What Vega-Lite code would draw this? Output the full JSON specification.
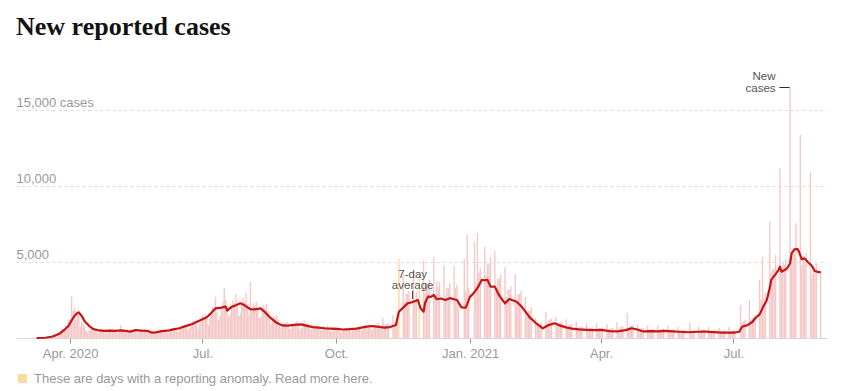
{
"$schema": "https://vega.github.io/schema/vega-lite/v6.json",
"width": 811, "height": 266, "autosize": "none",
"padding": {"left": 16, "top": 72, "right": 23, "bottom": 53},
"background": "white",
"title": {"text": "New reported cases", "anchor": "start", "frame": "group", "font": "Liberation Serif", "fontSize": 26, "fontWeight": "bold", "color": "#121212", "baseline": "alphabetic", "offset": 10},
"config": {"view": {"stroke": null}, "font": "Liberation Sans"},
"datasets": {
"daily": [
{"d":"2020-03-09","n":1},{"d":"2020-03-10","n":5},{"d":"2020-03-11","n":7},{"d":"2020-03-12","n":17},{"d":"2020-03-13","n":13},{"d":"2020-03-14","n":26},{"d":"2020-03-15","n":33},
{"d":"2020-03-16","n":57},{"d":"2020-03-17","n":65},{"d":"2020-03-18","n":62},{"d":"2020-03-19","n":110},{"d":"2020-03-20","n":150},{"d":"2020-03-21","n":170},{"d":"2020-03-22","n":250},
{"d":"2020-03-23","n":225},{"d":"2020-03-24","n":330},{"d":"2020-03-25","n":410},{"d":"2020-03-26","n":510},{"d":"2020-03-27","n":570},{"d":"2020-03-28","n":540},{"d":"2020-03-29","n":840},
{"d":"2020-03-30","n":480},{"d":"2020-03-31","n":1210},{"d":"2020-04-01","n":1190},{"d":"2020-04-02","n":2730},{"d":"2020-04-03","n":1800},{"d":"2020-04-04","n":2000},{"d":"2020-04-05","n":1200},
{"d":"2020-04-06","n":1500},{"d":"2020-04-07","n":1570},{"d":"2020-04-08","n":750},{"d":"2020-04-09","n":1050},{"d":"2020-04-10","n":900},{"d":"2020-04-11","n":750},{"d":"2020-04-12","n":500},
{"d":"2020-04-13","n":400},{"d":"2020-04-14","n":500},{"d":"2020-04-15","n":500},{"d":"2020-04-16","n":700},{"d":"2020-04-17","n":600},{"d":"2020-04-18","n":550},{"d":"2020-04-19","n":400},
{"d":"2020-04-20","n":300},{"d":"2020-04-21","n":450},{"d":"2020-04-22","n":500},{"d":"2020-04-23","n":600},{"d":"2020-04-24","n":500},{"d":"2020-04-25","n":450},{"d":"2020-04-26","n":350},
{"d":"2020-04-27","n":360},{"d":"2020-04-28","n":480},{"d":"2020-04-29","n":580},{"d":"2020-04-30","n":530},{"d":"2020-05-01","n":600},{"d":"2020-05-02","n":480},{"d":"2020-05-03","n":340},
{"d":"2020-05-04","n":360},{"d":"2020-05-05","n":480},{"d":"2020-05-06","n":870},{"d":"2020-05-07","n":530},{"d":"2020-05-08","n":420},{"d":"2020-05-09","n":480},{"d":"2020-05-10","n":340},
{"d":"2020-05-11","n":320},{"d":"2020-05-12","n":430},{"d":"2020-05-13","n":520},{"d":"2020-05-14","n":470},{"d":"2020-05-15","n":540},{"d":"2020-05-16","n":430},{"d":"2020-05-17","n":300},
{"d":"2020-05-18","n":360},{"d":"2020-05-19","n":480},{"d":"2020-05-20","n":580},{"d":"2020-05-21","n":530},{"d":"2020-05-22","n":600},{"d":"2020-05-23","n":480},{"d":"2020-05-24","n":340},
{"d":"2020-05-25","n":280},{"d":"2020-05-26","n":380},{"d":"2020-05-27","n":460},{"d":"2020-05-28","n":420},{"d":"2020-05-29","n":480},{"d":"2020-05-30","n":380},{"d":"2020-05-31","n":270},
{"d":"2020-06-01","n":340},{"d":"2020-06-02","n":450},{"d":"2020-06-03","n":540},{"d":"2020-06-04","n":500},{"d":"2020-06-05","n":560},{"d":"2020-06-06","n":450},{"d":"2020-06-07","n":320},
{"d":"2020-06-08","n":410},{"d":"2020-06-09","n":550},{"d":"2020-06-10","n":660},{"d":"2020-06-11","n":610},{"d":"2020-06-12","n":690},{"d":"2020-06-13","n":550},{"d":"2020-06-14","n":390},
{"d":"2020-06-15","n":530},{"d":"2020-06-16","n":700},{"d":"2020-06-17","n":840},{"d":"2020-06-18","n":770},{"d":"2020-06-19","n":880},{"d":"2020-06-20","n":700},{"d":"2020-06-21","n":490},
{"d":"2020-06-22","n":680},{"d":"2020-06-23","n":900},{"d":"2020-06-24","n":1080},{"d":"2020-06-25","n":990},{"d":"2020-06-26","n":1130},{"d":"2020-06-27","n":900},{"d":"2020-06-28","n":630},
{"d":"2020-06-29","n":940},{"d":"2020-06-30","n":1250},{"d":"2020-07-01","n":1500},{"d":"2020-07-02","n":1380},{"d":"2020-07-03","n":1560},{"d":"2020-07-04","n":1250},{"d":"2020-07-05","n":880},
{"d":"2020-07-06","n":1280},{"d":"2020-07-07","n":1700},{"d":"2020-07-08","n":2040},{"d":"2020-07-09","n":1870},{"d":"2020-07-10","n":2700},{"d":"2020-07-11","n":1700},{"d":"2020-07-12","n":1190},
{"d":"2020-07-13","n":1500},{"d":"2020-07-14","n":2000},{"d":"2020-07-15","n":2400},{"d":"2020-07-16","n":3300},{"d":"2020-07-17","n":2500},{"d":"2020-07-18","n":2000},{"d":"2020-07-19","n":1400},
{"d":"2020-07-20","n":1580},{"d":"2020-07-21","n":2100},{"d":"2020-07-22","n":2520},{"d":"2020-07-23","n":2310},{"d":"2020-07-24","n":2900},{"d":"2020-07-25","n":2100},{"d":"2020-07-26","n":1470},
{"d":"2020-07-27","n":1650},{"d":"2020-07-28","n":2200},{"d":"2020-07-29","n":2640},{"d":"2020-07-30","n":2420},{"d":"2020-07-31","n":3000},{"d":"2020-08-01","n":2200},{"d":"2020-08-02","n":1540},
{"d":"2020-08-03","n":3700},{"d":"2020-08-04","n":1900},{"d":"2020-08-05","n":2280},{"d":"2020-08-06","n":2090},{"d":"2020-08-07","n":2380},{"d":"2020-08-08","n":1900},{"d":"2020-08-09","n":1330},
{"d":"2020-08-10","n":1350},{"d":"2020-08-11","n":1800},{"d":"2020-08-12","n":2160},{"d":"2020-08-13","n":1980},{"d":"2020-08-14","n":2250},{"d":"2020-08-15","n":1800},{"d":"2020-08-16","n":1260},
{"d":"2020-08-17","n":900},{"d":"2020-08-18","n":1200},{"d":"2020-08-19","n":1440},{"d":"2020-08-20","n":1320},{"d":"2020-08-21","n":1500},{"d":"2020-08-22","n":1200},{"d":"2020-08-23","n":840},
{"d":"2020-08-24","n":640},{"d":"2020-08-25","n":850},{"d":"2020-08-26","n":1020},{"d":"2020-08-27","n":940},{"d":"2020-08-28","n":1060},{"d":"2020-08-29","n":850},{"d":"2020-08-30","n":600},
{"d":"2020-08-31","n":600},{"d":"2020-09-01","n":880},{"d":"2020-09-02","n":1000},{"d":"2020-09-03","n":960},{"d":"2020-09-04","n":1100},{"d":"2020-09-05","n":820},{"d":"2020-09-06","n":580},
{"d":"2020-09-07","n":650},{"d":"2020-09-08","n":820},{"d":"2020-09-09","n":1150},{"d":"2020-09-10","n":900},{"d":"2020-09-11","n":1020},{"d":"2020-09-12","n":870},{"d":"2020-09-13","n":610},
{"d":"2020-09-14","n":530},{"d":"2020-09-15","n":700},{"d":"2020-09-16","n":840},{"d":"2020-09-17","n":770},{"d":"2020-09-18","n":880},{"d":"2020-09-19","n":700},{"d":"2020-09-20","n":490},
{"d":"2020-09-21","n":480},{"d":"2020-09-22","n":640},{"d":"2020-09-23","n":770},{"d":"2020-09-24","n":700},{"d":"2020-09-25","n":800},{"d":"2020-09-26","n":640},{"d":"2020-09-27","n":450},
{"d":"2020-09-28","n":450},{"d":"2020-09-29","n":600},{"d":"2020-09-30","n":720},{"d":"2020-10-01","n":660},{"d":"2020-10-02","n":750},{"d":"2020-10-03","n":600},{"d":"2020-10-04","n":420},
{"d":"2020-10-05","n":410},{"d":"2020-10-06","n":550},{"d":"2020-10-07","n":660},{"d":"2020-10-08","n":610},{"d":"2020-10-09","n":690},{"d":"2020-10-10","n":550},{"d":"2020-10-11","n":390},
{"d":"2020-10-12","n":450},{"d":"2020-10-13","n":600},{"d":"2020-10-14","n":720},{"d":"2020-10-15","n":660},{"d":"2020-10-16","n":750},{"d":"2020-10-17","n":600},{"d":"2020-10-18","n":420},
{"d":"2020-10-19","n":560},{"d":"2020-10-20","n":750},{"d":"2020-10-21","n":900},{"d":"2020-10-22","n":830},{"d":"2020-10-23","n":940},{"d":"2020-10-24","n":750},{"d":"2020-10-25","n":530},
{"d":"2020-10-26","n":600},{"d":"2020-10-27","n":720},{"d":"2020-10-28","n":880},{"d":"2020-10-29","n":800},{"d":"2020-10-30","n":980},{"d":"2020-10-31","n":700},{"d":"2020-11-01","n":560},
{"d":"2020-11-02","n":1330},{"d":"2020-11-03","n":770},{"d":"2020-11-04","n":910},{"d":"2020-11-05","n":910},{"d":"2020-11-06","n":980},
{"d":"2020-11-09","n":1500},{"d":"2020-11-10","n":900},{"d":"2020-11-11","n":1000},{"d":"2020-11-12","n":1100},{"d":"2020-11-13","n":5200,"k":"a"},
{"d":"2020-11-16","n":4200},{"d":"2020-11-17","n":2400},{"d":"2020-11-18","n":2900},{"d":"2020-11-19","n":2900},{"d":"2020-11-20","n":3100},
{"d":"2020-11-23","n":4400},{"d":"2020-11-24","n":2500},{"d":"2020-11-25","n":3000},{"d":"2020-11-27","n":4300,"k":"a"},
{"d":"2020-11-30","n":5100},{"d":"2020-12-01","n":3000},{"d":"2020-12-02","n":3500},{"d":"2020-12-03","n":3500},{"d":"2020-12-04","n":3800},
{"d":"2020-12-07","n":5300},{"d":"2020-12-08","n":2800},{"d":"2020-12-09","n":3700},{"d":"2020-12-10","n":3400},{"d":"2020-12-11","n":3700},
{"d":"2020-12-14","n":4800},{"d":"2020-12-15","n":2800},{"d":"2020-12-16","n":3300},{"d":"2020-12-17","n":3300},{"d":"2020-12-18","n":3600},
{"d":"2020-12-21","n":4750},{"d":"2020-12-22","n":3300},{"d":"2020-12-23","n":3500},{"d":"2020-12-24","n":2200},
{"d":"2020-12-28","n":5200},{"d":"2020-12-29","n":3100},{"d":"2020-12-30","n":6800},{"d":"2020-12-31","n":3300},
{"d":"2021-01-04","n":6300},{"d":"2021-01-05","n":3600},{"d":"2021-01-06","n":6900},{"d":"2021-01-07","n":4300},{"d":"2021-01-08","n":4600},
{"d":"2021-01-11","n":6000},{"d":"2021-01-12","n":4100},{"d":"2021-01-13","n":4900},{"d":"2021-01-14","n":4900},{"d":"2021-01-15","n":5300},
{"d":"2021-01-18","n":5700},{"d":"2021-01-19","n":3300},{"d":"2021-01-20","n":3900},{"d":"2021-01-21","n":3900},{"d":"2021-01-22","n":4200},
{"d":"2021-01-25","n":4650},{"d":"2021-01-26","n":2700},{"d":"2021-01-27","n":3200},{"d":"2021-01-28","n":3200},{"d":"2021-01-29","n":3400},
{"d":"2021-02-01","n":4200},{"d":"2021-02-02","n":2400},{"d":"2021-02-03","n":2900},{"d":"2021-02-04","n":2900},{"d":"2021-02-05","n":3100},
{"d":"2021-02-08","n":2700},{"d":"2021-02-09","n":1500},{"d":"2021-02-10","n":1800},{"d":"2021-02-11","n":1800},{"d":"2021-02-12","n":2000},
{"d":"2021-02-15","n":1300},{"d":"2021-02-16","n":800},{"d":"2021-02-17","n":900},{"d":"2021-02-18","n":900},{"d":"2021-02-19","n":1000},
{"d":"2021-02-22","n":1700},{"d":"2021-02-23","n":1000},{"d":"2021-02-24","n":1200},{"d":"2021-02-25","n":1200},{"d":"2021-02-26","n":1300},
{"d":"2021-03-01","n":1400},{"d":"2021-03-02","n":830},{"d":"2021-03-03","n":980},{"d":"2021-03-04","n":980},{"d":"2021-03-05","n":1050},
{"d":"2021-03-08","n":1240},{"d":"2021-03-09","n":720},{"d":"2021-03-10","n":850},{"d":"2021-03-11","n":850},{"d":"2021-03-12","n":910},
{"d":"2021-03-15","n":1050},{"d":"2021-03-16","n":600},{"d":"2021-03-17","n":720},{"d":"2021-03-18","n":720},{"d":"2021-03-19","n":770},
{"d":"2021-03-22","n":950},{"d":"2021-03-23","n":550},{"d":"2021-03-24","n":650},{"d":"2021-03-25","n":650},{"d":"2021-03-26","n":700},
{"d":"2021-03-29","n":950},{"d":"2021-03-30","n":550},{"d":"2021-03-31","n":650},{"d":"2021-04-01","n":650},{"d":"2021-04-02","n":700},
{"d":"2021-04-05","n":910},{"d":"2021-04-06","n":530},{"d":"2021-04-07","n":620},{"d":"2021-04-08","n":620},{"d":"2021-04-09","n":670},
{"d":"2021-04-12","n":1050},{"d":"2021-04-13","n":600},{"d":"2021-04-14","n":720},{"d":"2021-04-15","n":720},{"d":"2021-04-16","n":770},
{"d":"2021-04-19","n":1650},{"d":"2021-04-20","n":680},{"d":"2021-04-21","n":810},{"d":"2021-04-22","n":810},{"d":"2021-04-23","n":870},
{"d":"2021-04-26","n":910},{"d":"2021-04-27","n":530},{"d":"2021-04-28","n":620},{"d":"2021-04-29","n":620},{"d":"2021-04-30","n":670},
{"d":"2021-05-03","n":820},{"d":"2021-05-04","n":470},{"d":"2021-05-05","n":560},{"d":"2021-05-06","n":560},{"d":"2021-05-07","n":600},
{"d":"2021-05-10","n":860},{"d":"2021-05-11","n":500},{"d":"2021-05-12","n":590},{"d":"2021-05-13","n":590},{"d":"2021-05-14","n":630},
{"d":"2021-05-17","n":800},{"d":"2021-05-18","n":460},{"d":"2021-05-19","n":550},{"d":"2021-05-20","n":550},{"d":"2021-05-21","n":590},
{"d":"2021-05-24","n":720},{"d":"2021-05-25","n":420},{"d":"2021-05-26","n":490},{"d":"2021-05-27","n":490},{"d":"2021-05-28","n":530},
{"d":"2021-06-01","n":1000},{"d":"2021-06-02","n":480},{"d":"2021-06-03","n":470},{"d":"2021-06-04","n":500},
{"d":"2021-06-07","n":760},{"d":"2021-06-08","n":440},{"d":"2021-06-09","n":520},{"d":"2021-06-10","n":520},{"d":"2021-06-11","n":560},
{"d":"2021-06-14","n":720},{"d":"2021-06-15","n":420},{"d":"2021-06-16","n":490},{"d":"2021-06-17","n":490},{"d":"2021-06-18","n":530},
{"d":"2021-06-21","n":680},{"d":"2021-06-22","n":400},{"d":"2021-06-23","n":470},{"d":"2021-06-24","n":470},{"d":"2021-06-25","n":500},
{"d":"2021-06-28","n":720},{"d":"2021-06-29","n":420},{"d":"2021-06-30","n":490},{"d":"2021-07-01","n":490},{"d":"2021-07-02","n":530},
{"d":"2021-07-06","n":2170},{"d":"2021-07-07","n":1000},{"d":"2021-07-08","n":1100},{"d":"2021-07-09","n":1200},
{"d":"2021-07-12","n":2500},{"d":"2021-07-13","n":1200},{"d":"2021-07-14","n":1300},{"d":"2021-07-15","n":1400},{"d":"2021-07-16","n":1500},
{"d":"2021-07-19","n":3820},{"d":"2021-07-20","n":2500},{"d":"2021-07-21","n":5350},{"d":"2021-07-22","n":2600},{"d":"2021-07-23","n":3000},
{"d":"2021-07-26","n":7650},{"d":"2021-07-27","n":4300},{"d":"2021-07-28","n":4500},{"d":"2021-07-29","n":4600},{"d":"2021-07-30","n":5460},
{"d":"2021-08-02","n":11170},{"d":"2021-08-03","n":4600},{"d":"2021-08-04","n":5000},{"d":"2021-08-05","n":4800},{"d":"2021-08-06","n":5200},
{"d":"2021-08-09","n":16450},{"d":"2021-08-10","n":5200},{"d":"2021-08-11","n":5800},{"d":"2021-08-12","n":5600},{"d":"2021-08-13","n":7550},
{"d":"2021-08-16","n":13360},{"d":"2021-08-17","n":4800},{"d":"2021-08-18","n":5400},{"d":"2021-08-19","n":4900},{"d":"2021-08-20","n":5600},
{"d":"2021-08-23","n":10940},{"d":"2021-08-24","n":4200},{"d":"2021-08-25","n":4700},{"d":"2021-08-26","n":4300},{"d":"2021-08-27","n":4900},
{"d":"2021-08-30","n":4400}
],
"avg": [
{"d":"2020-03-09","v":0},{"d":"2020-03-15","v":15},{"d":"2020-03-20","v":100},{"d":"2020-03-25","v":300},{"d":"2020-03-28","v":530},{"d":"2020-03-31","v":800},{"d":"2020-04-02","v":1150},{"d":"2020-04-04","v":1450},{"d":"2020-04-06","v":1650},{"d":"2020-04-07","v":1690},{"d":"2020-04-09","v":1450},{"d":"2020-04-11","v":1100},{"d":"2020-04-14","v":800},{"d":"2020-04-17","v":590},{"d":"2020-04-20","v":520},{"d":"2020-04-24","v":470},{"d":"2020-04-28","v":480},{"d":"2020-05-02","v":470},{"d":"2020-05-06","v":500},{"d":"2020-05-09","v":470},{"d":"2020-05-12","v":420},{"d":"2020-05-16","v":520},{"d":"2020-05-20","v":480},{"d":"2020-05-24","v":470},{"d":"2020-05-27","v":360},{"d":"2020-05-30","v":370},{"d":"2020-06-03","v":450},{"d":"2020-06-07","v":480},{"d":"2020-06-11","v":570},{"d":"2020-06-15","v":640},{"d":"2020-06-20","v":800},{"d":"2020-06-24","v":920},{"d":"2020-06-28","v":1100},{"d":"2020-07-01","v":1230},{"d":"2020-07-04","v":1360},{"d":"2020-07-07","v":1650},{"d":"2020-07-10","v":1950},{"d":"2020-07-14","v":2000},{"d":"2020-07-17","v":2060},{"d":"2020-07-18","v":1800},{"d":"2020-07-21","v":2050},{"d":"2020-07-24","v":2150},{"d":"2020-07-27","v":2280},{"d":"2020-07-30","v":2150},{"d":"2020-08-03","v":1890},{"d":"2020-08-06","v":1880},{"d":"2020-08-10","v":1950},{"d":"2020-08-13","v":1700},{"d":"2020-08-17","v":1300},{"d":"2020-08-21","v":1000},{"d":"2020-08-25","v":830},{"d":"2020-08-28","v":810},{"d":"2020-09-01","v":850},{"d":"2020-09-04","v":880},{"d":"2020-09-07","v":900},{"d":"2020-09-11","v":800},{"d":"2020-09-15","v":720},{"d":"2020-09-19","v":680},{"d":"2020-09-23","v":640},{"d":"2020-09-27","v":620},{"d":"2020-10-01","v":600},{"d":"2020-10-06","v":560},{"d":"2020-10-10","v":580},{"d":"2020-10-15","v":620},{"d":"2020-10-20","v":720},{"d":"2020-10-25","v":790},{"d":"2020-10-29","v":750},{"d":"2020-11-03","v":680},{"d":"2020-11-07","v":720},{"d":"2020-11-11","v":860},{"d":"2020-11-13","v":1730},{"d":"2020-11-16","v":2000},{"d":"2020-11-19","v":2280},{"d":"2020-11-22","v":2350},{"d":"2020-11-26","v":2500},{"d":"2020-11-28","v":1950},{"d":"2020-11-30","v":1730},{"d":"2020-12-01","v":2300},{"d":"2020-12-03","v":2720},{"d":"2020-12-05","v":2700},{"d":"2020-12-07","v":2830},{"d":"2020-12-09","v":2550},{"d":"2020-12-12","v":2600},{"d":"2020-12-15","v":2500},{"d":"2020-12-18","v":2620},{"d":"2020-12-21","v":2550},{"d":"2020-12-23","v":2500},{"d":"2020-12-26","v":2020},{"d":"2020-12-29","v":2000},{"d":"2021-01-01","v":2720},{"d":"2021-01-03","v":2900},{"d":"2021-01-06","v":3270},{"d":"2021-01-09","v":3820},{"d":"2021-01-11","v":3800},{"d":"2021-01-13","v":3820},{"d":"2021-01-15","v":3380},{"d":"2021-01-18","v":3380},{"d":"2021-01-21","v":2800},{"d":"2021-01-25","v":2280},{"d":"2021-01-28","v":2570},{"d":"2021-02-02","v":2390},{"d":"2021-02-06","v":2000},{"d":"2021-02-11","v":1360},{"d":"2021-02-15","v":1000},{"d":"2021-02-20","v":640},{"d":"2021-02-24","v":850},{"d":"2021-02-28","v":970},{"d":"2021-03-03","v":850},{"d":"2021-03-08","v":700},{"d":"2021-03-12","v":620},{"d":"2021-03-17","v":570},{"d":"2021-03-22","v":540},{"d":"2021-03-27","v":520},{"d":"2021-04-01","v":530},{"d":"2021-04-07","v":450},{"d":"2021-04-12","v":430},{"d":"2021-04-18","v":520},{"d":"2021-04-22","v":640},{"d":"2021-04-26","v":560},{"d":"2021-04-30","v":430},{"d":"2021-05-05","v":450},{"d":"2021-05-10","v":430},{"d":"2021-05-15","v":470},{"d":"2021-05-20","v":440},{"d":"2021-05-25","v":410},{"d":"2021-05-31","v":380},{"d":"2021-06-06","v":410},{"d":"2021-06-12","v":420},{"d":"2021-06-18","v":380},{"d":"2021-06-23","v":360},{"d":"2021-06-28","v":350},{"d":"2021-07-02","v":360},{"d":"2021-07-05","v":410},{"d":"2021-07-07","v":740},{"d":"2021-07-09","v":800},{"d":"2021-07-11","v":860},{"d":"2021-07-14","v":1050},{"d":"2021-07-16","v":1300},{"d":"2021-07-19","v":1550},{"d":"2021-07-21","v":1950},{"d":"2021-07-24","v":2500},{"d":"2021-07-26","v":3300},{"d":"2021-07-27","v":3820},{"d":"2021-07-30","v":4200},{"d":"2021-08-01","v":4470},{"d":"2021-08-02","v":4690},{"d":"2021-08-03","v":4360},{"d":"2021-08-05","v":4450},{"d":"2021-08-07","v":4590},{"d":"2021-08-09","v":4920},{"d":"2021-08-10","v":5570},{"d":"2021-08-12","v":5830},{"d":"2021-08-14","v":5860},{"d":"2021-08-15","v":5700},{"d":"2021-08-17","v":5180},{"d":"2021-08-19","v":5240},{"d":"2021-08-21","v":5020},{"d":"2021-08-24","v":4740},{"d":"2021-08-26","v":4410},{"d":"2021-08-28","v":4350},{"d":"2021-08-30","v":4320}
]
},
"layer": [
{
"data": {"name": "daily"},
"transform": [{"filter": "!datum.k"}],
"mark": {"type": "bar", "width": 1.4, "color": "#f5c8c8"},
"encoding": {
"x": {"field": "d", "type": "temporal", "title": null,
"scale": {"type": "utc", "domain": [{"year": 2020, "month": 2, "date": 27, "hours": 6, "utc": true}, {"year": 2021, "month": 8, "date": 30, "hours": 22, "utc": true}]},
"axis": {"values": [{"year": 2020, "month": 4, "date": 1, "utc": true}, {"year": 2020, "month": 7, "date": 1, "utc": true}, {"year": 2020, "month": 10, "date": 1, "utc": true}, {"year": 2021, "month": 1, "date": 1, "utc": true}, {"year": 2021, "month": 4, "date": 1, "utc": true}, {"year": 2021, "month": 7, "date": 1, "utc": true}],
"labelExpr": "(utcmonth(datum.value) == 0 || (utcyear(datum.value) == 2020 && utcmonth(datum.value) == 3)) ? utcFormat(datum.value, '%b. %Y') : utcFormat(datum.value, '%b.')",
"grid": false, "domainColor": "#d6d6d6", "tickColor": "#999", "tickSize": 5, "labelFontSize": 13, "labelColor": "#999", "labelFont": "Liberation Sans", "labelPadding": 4, "labelFlush": false, "labelOverlap": false}},
"y": {"field": "n", "type": "quantitative", "title": null,
"scale": {"domain": [0, 17500], "nice": false},
"axis": {"values": [5000, 10000, 15000], "labelExpr": "datum.value == 15000 ? datum.label + ' cases' : datum.label",
"domain": false, "ticks": false, "tickSize": 0, "labelAlign": "left", "labelPadding": 0, "labelBaseline": "alphabetic", "labelOffset": -4,
"labelFontSize": 13, "labelColor": "#999", "labelFont": "Liberation Sans", "grid": true, "gridColor": "#dcdcdc", "gridDash": [3, 3]}}
}
},
{
"data": {"name": "daily"},
"transform": [{"filter": "datum.k"}],
"mark": {"type": "bar", "width": 1.4},
"encoding": {
"x": {"field": "d", "type": "temporal", "title": null},
"y": {"field": "n", "type": "quantitative", "title": null},
"color": {"field": "k", "type": "nominal", "scale": {"range": ["#fbdc9c"]},
"legend": {"orient": "none", "legendX": 0, "legendY": 300, "title": null, "padding": 0, "symbolType": "square", "symbolSize": 81, "symbolStrokeWidth": 0, "labelFontSize": 13, "labelColor": "#999", "labelFont": "Liberation Sans", "labelOffset": 5, "labelLimit": 600, "labelExpr": "'These are days with a reporting anomaly. Read more here.'"}}
}
},
{
"data": {"name": "avg"},
"mark": {"type": "line", "color": "#c81414", "strokeWidth": 2.2, "strokeJoin": "round"},
"encoding": {
"x": {"field": "d", "type": "temporal", "title": null},
"y": {"field": "v", "type": "quantitative", "title": null}
}
},
{
"data": {"values": [{"d": "2020-11-22T12:00:00Z", "d2": "2020-11-22T12:00:00Z", "v": 2560, "v2": 3100}, {"d": "2021-08-01T14:00:00Z", "d2": "2021-08-08T17:00:00Z", "v": 16480, "v2": 16480}]},
"mark": {"type": "rule", "color": "#333", "strokeWidth": 1},
"encoding": {
"x": {"field": "d", "type": "temporal", "title": null}, "x2": {"field": "d2"},
"y": {"field": "v", "type": "quantitative", "title": null}, "y2": {"field": "v2"}
}
},
{
"data": {"values": [{"d": "2020-11-22T12:00:00Z", "v": 3980, "t": ["7-day", "average"]}]},
"mark": {"type": "text", "align": "center", "baseline": "alphabetic", "fontSize": 11.5, "lineHeight": 11, "color": "#555", "font": "Liberation Sans"},
"encoding": {
"x": {"field": "d", "type": "temporal", "title": null},
"y": {"field": "v", "type": "quantitative", "title": null},
"text": {"field": "t"}
}
},
{
"data": {"values": [{"d": "2021-07-30T00:00:00Z", "v": 16974, "t": ["New", "cases"]}]},
"mark": {"type": "text", "align": "right", "baseline": "alphabetic", "fontSize": 11.5, "lineHeight": 12, "color": "#555", "font": "Liberation Sans"},
"encoding": {
"x": {"field": "d", "type": "temporal", "title": null},
"y": {"field": "v", "type": "quantitative", "title": null},
"text": {"field": "t"}
}
}
]
}
